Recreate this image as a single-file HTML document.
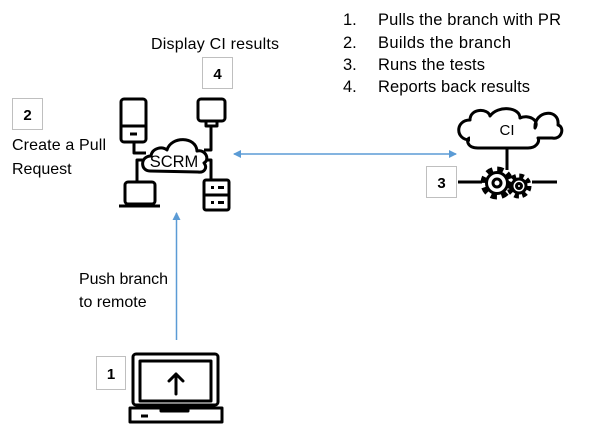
<!DOCTYPE html>
<html><head><meta charset="utf-8"><style>
html,body{margin:0;padding:0;background:#fff}
svg{display:block}
text{font-family:"Liberation Sans",sans-serif;fill:#000}
</style></head><body>
<svg width="602" height="437" viewBox="0 0 602 437" xmlns="http://www.w3.org/2000/svg">
<defs>
<marker id="ah" markerWidth="8" markerHeight="8" refX="7" refY="4" orient="auto" markerUnits="userSpaceOnUse">
<path d="M0,0 L8,4 L0,8 z" fill="#5b9bd5"/></marker>
</defs>
<text x="151" y="49" font-size="16" textLength="128">Display CI results</text>
<text x="12" y="150" font-size="16" textLength="94">Create a Pull</text>
<text x="12" y="174" font-size="16">Request</text>
<text x="79" y="284" font-size="16" textLength="89">Push branch</text>
<text x="79" y="307" font-size="16">to remote</text>
<g font-size="16.5">
<text x="343" y="25">1.</text><text x="378" y="25" textLength="183">Pulls the branch with PR</text>
<text x="343" y="48">2.</text><text x="378" y="48" textLength="133">Builds the branch</text>
<text x="343" y="70">3.</text><text x="378" y="70" textLength="107">Runs the tests</text>
<text x="343" y="92">4.</text><text x="378" y="92" textLength="152">Reports back results</text>
</g>
<g fill="#fff" stroke="#bfbfbf" stroke-width="1">
<rect x="12.5" y="98.5" width="30" height="31"/>
<rect x="202.5" y="57.5" width="30" height="31"/>
<rect x="426.5" y="166.5" width="30" height="31"/>
<rect x="96.5" y="356.5" width="29" height="33"/>
</g>
<g font-size="15" font-weight="bold" text-anchor="middle">
<text x="27.5" y="120">2</text>
<text x="217.5" y="79">4</text>
<text x="441.5" y="188">3</text>
<text x="111" y="379">1</text>
</g>
<line x1="176.5" y1="340" x2="176.5" y2="213" stroke="#5b9bd5" stroke-width="1.5" marker-end="url(#ah)"/>
<line x1="300" y1="154" x2="234" y2="154" stroke="#5b9bd5" stroke-width="1.5" marker-end="url(#ah)"/>
<line x1="300" y1="154" x2="456" y2="154" stroke="#5b9bd5" stroke-width="1.5" marker-end="url(#ah)"/>
<g stroke="#000" stroke-width="3" fill="none" stroke-linejoin="round">
<rect x="121" y="99" width="25" height="43" rx="3"/>
<line x1="121" y1="126" x2="146" y2="126"/>
<line x1="130" y1="134" x2="137" y2="134"/>
<rect x="198" y="99" width="27" height="22" rx="3"/>
<rect x="206" y="121" width="11" height="5"/>
<path d="M134,142 V153 H146"/>
<path d="M211,126 V150 H204"/>
<path d="M146,160 H137 V182"/>
<path d="M204,160 H211 V180"/>
<path d="M150,171 C140,171 140,156 151,156 C152,148 162,146 167,150 C171,136 196,136 197,151 C206,149 210,160 204,163 C208,168 204,173 198,172 Z" fill="#fff"/>
<rect x="125" y="182" width="30" height="22" rx="3"/>
<path d="M119,206 H160"/>
<rect x="204" y="180" width="25" height="30" rx="2"/>
<line x1="204" y1="195" x2="229" y2="195"/>
</g>
<g fill="#000"><rect x="211" y="186" width="3" height="3"/><rect x="218" y="186" width="6" height="3"/><rect x="211" y="201" width="3" height="3"/><rect x="218" y="201" width="6" height="3"/></g>
<text x="174" y="167" font-size="16.5" text-anchor="middle">SCRM</text>
<g stroke="#000" stroke-width="3" fill="none" stroke-linejoin="round">
<path d="M470,140 C455,140 455,120 470,120 C470,108 488,108 490,116 C498,105 520,107 520,118 C528,114 540,120 535,128 C534,110 560,108 558,125 C565,127 562,140 552,138 L538,138 C540,142 536,148 528,148 L478,148 C466,148 466,138 470,138" fill="#fff"/>
<line x1="507" y1="148" x2="507" y2="170"/>
<line x1="458" y1="182" x2="482" y2="182"/>
<line x1="532" y1="182" x2="557" y2="182"/>
<circle cx="497" cy="183" r="13.5" stroke-width="6" stroke-dasharray="6 4.6"/>
<circle cx="497" cy="183" r="10.5" fill="#fff"/>
<circle cx="497" cy="183" r="4"/>
<circle cx="519" cy="186" r="10" stroke-width="5" stroke-dasharray="4.5 3.35"/>
<circle cx="519" cy="186" r="7" fill="#fff"/>
<circle cx="519" cy="186" r="2.5"/>
</g>
<text x="507" y="135" font-size="15" text-anchor="middle">CI</text>
<g stroke="#000" stroke-width="3" fill="none" stroke-linejoin="round">
<rect x="133" y="354" width="85" height="51" rx="3"/>
<rect x="140" y="361" width="71" height="40"/>
<path d="M130,408 H222 V422 H130 Z" />
<path d="M161,408 V411 H188 V408"/>
<line x1="141" y1="416" x2="148" y2="416"/>
<path d="M176,394 V374 M169,381 L176,374 L183,381" stroke-linecap="round"/>
</g>
</svg>
</body></html>
